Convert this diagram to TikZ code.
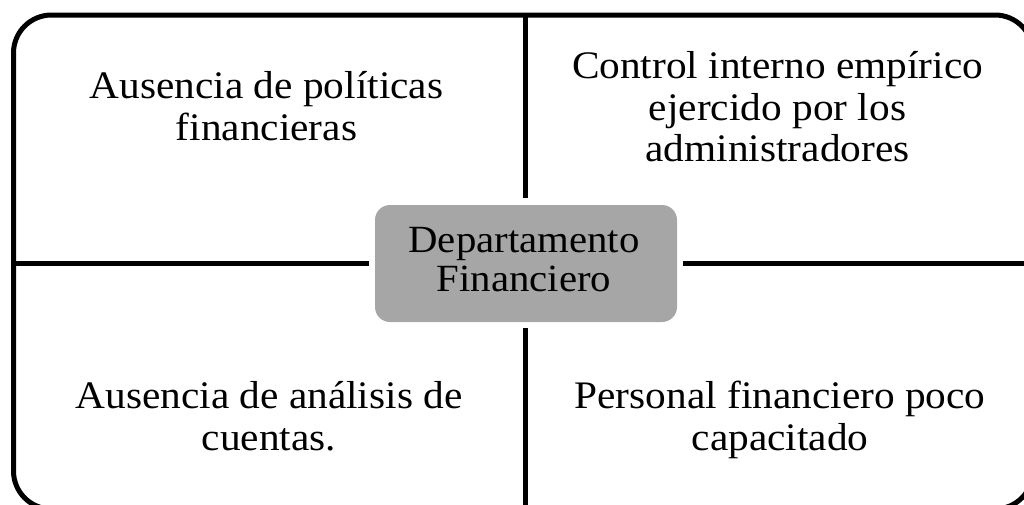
\documentclass[tikz,border=0pt]{standalone}
\usepackage{fontspec}
\setmainfont{Liberation Serif}[FakeStretch=1.06]
\begin{document}
\begin{tikzpicture}[x=1pt,y=-1pt,
  frame/.style={draw=black,line width=5pt,rounded corners=38pt},
  divider/.style={draw=black,line width=5pt},
  hub/.style={fill=hubgray,rounded corners=15pt,minimum width=302pt,minimum height=117pt,inner sep=0pt},
  hubtext/.style={align=center,font=\fontsize{38.5}{38.5}\selectfont,inner sep=0pt},
  quad/.style={align=center,font=\fontsize{39}{41.5}\selectfont,inner sep=0pt,anchor=base}]
\definecolor{hubgray}{RGB}{166,166,166}
\useasboundingbox (0,0) rectangle (1024,504);
\draw[frame] (13.5,15) rectangle (1033,509);
\node[hub] (hub) at (526,263.5) {};
\coordinate (top) at (525.5,15);
\coordinate (bot) at (525.5,509);
\coordinate (lft) at (13.5,263.5);
\coordinate (rgt) at (1033,263.5);
\draw[divider,shorten >=7pt] (top) -- (hub.north -| top);
\draw[divider,shorten >=6pt] (bot) -- (hub.south -| bot);
\draw[divider,shorten >=6pt] (lft) -- (hub.west);
\draw[divider,shorten >=6pt] (rgt) -- (hub.east);
\node[hubtext,anchor=base] (hubt) at (524,291) {Departamento\\Financiero};
\node[quad] (tl) at (266.5,140) {Ausencia de políticas\\financieras};
\node[quad] (tr) at (777.5,161.7) {Control interno empírico\\ejercido por los\\administradores};
\node[quad] (bl) at (269,450) {Ausencia de análisis de\\cuentas.};
\node[quad] (br) at (780,450) {Personal financiero poco\\capacitado};
\end{tikzpicture}
\end{document}
